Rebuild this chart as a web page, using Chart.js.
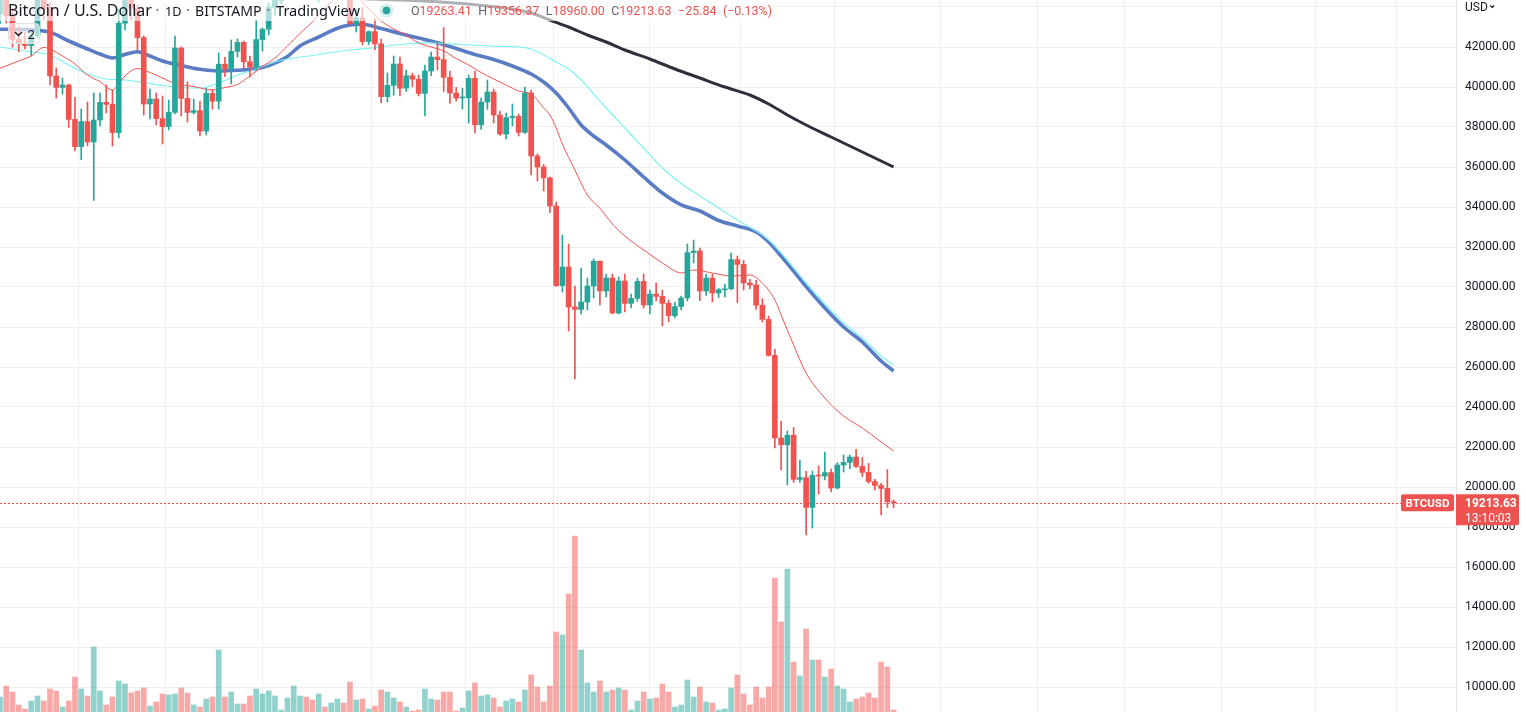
<!DOCTYPE html>
<html>
<head>
<meta charset="utf-8">
<script src="https://cdn.jsdelivr.net/npm/chart.js@4.4.1/dist/chart.umd.min.js"></script>
<style>
html,body{margin:0;padding:0;background:#fff;overflow:hidden}
#wrap{position:relative;width:1526px;height:712px}
</style>
</head>
<body>
<div id="wrap"><canvas id="c"></canvas></div>
<script>
// ---------- DATA (BTCUSD, Bitstamp, 1D, from 2022-02-09) ----------
const opens = [43650,44420,43560,42380,42200,42070,42560,44560,43900,40550,
39980,40100,38380,37020,38270,37250,38350,39230,39130,37720,
43190,44420,43920,42470,39150,39400,38420,38020,38730,41950,
39430,38730,38820,37800,39680,39290,41140,40920,41780,42230,
41260,41000,42370,42890,43980,44330,44520,46830,47130,47450,
47070,45520,46290,45830,46430,46610,45510,43180,43450,42270,
42770,42160,39520,40080,41150,39940,40560,40390,39680,40800,
41500,41370,40480,39700,39450,39460,40430,38110,39250,39750,
38600,37650,38470,38530,37730,39700,36550,36000,35460,34050,
30070,31000,29000,28880,29250,30050,31290,29800,30450,28700,
30300,29180,29430,30280,29100,29650,29530,29180,28570,29020,
29450,31720,31800,29800,30450,29700,29860,29910,31370,31130,
30200,30100,29090,28380,26580,22450,22110,22590,20380,20470,
18980,20580,20550,20720,19950,21100,21230,21500,21030,20730,
20270,20080,19930,19263.41];
const highs = [44850,45800,43920,43000,42750,42850,44750,44580,44200,40950,
40450,40150,39480,38900,39250,39700,39700,40100,39850,43900,
44950,45400,44100,42550,39900,39700,39550,39350,42550,42000,
40250,39400,39300,39950,39880,41700,41480,42350,42400,42300,
41550,43350,42950,44200,45100,44800,46900,48200,48100,47700,
47600,46700,47200,47450,46900,47200,45520,43900,43970,42800,
43420,42400,40700,41550,41500,40850,40700,40600,41100,41750,
42200,42970,40800,39980,39930,40600,40800,39450,40350,39900,
38800,38700,39150,38650,40000,39850,36650,36130,35500,34250,
32600,32150,30050,30950,30450,31400,31300,30650,30650,30500,
30650,29650,30450,30650,29850,30200,29850,29350,29230,29550,
32150,32350,31950,30650,30650,29930,30150,31700,31550,31330,
30380,30330,29420,28550,26880,23300,22800,22980,21350,20780,
20800,21050,21750,20900,21220,21600,21600,21880,21480,21180,
20380,20180,20880,19356.37];
const lows = [43150,43200,42000,41750,41900,41570,42450,43350,40100,39450,
39650,37980,36800,36370,37050,34330,38050,38700,37050,37450,
42850,43350,41850,38600,38400,38100,37150,37850,38650,38550,
38250,38650,37550,37600,38900,38900,40530,40150,41500,40920,
40500,40880,41800,42600,43600,44150,44400,46650,46950,46600,
45200,44250,45650,45550,45150,45360,43120,42750,42100,42120,
41870,39200,39250,39580,39560,39780,40010,39550,38550,40570,
40850,39770,39180,39300,38900,38200,37700,37880,38880,38200,
37580,37400,38050,37550,37680,35600,35300,34800,33720,30030,
29750,27800,25400,28650,28850,29450,29100,29500,28650,28650,
28750,28950,29280,28950,28650,29300,28050,28270,28450,28850,
29300,31200,29320,29580,29250,29470,29500,29870,29220,29850,
29900,28880,28250,26550,21950,20850,20100,20230,20230,17600,
17950,19650,20350,19750,19900,20750,20920,20980,20520,20180,
19850,18600,18980,18960];
const closes = [44420,43560,42380,42200,42070,42560,44560,43900,40550,39980,
40100,38380,37020,38270,37250,38350,39230,39130,37720,43190,
44420,43920,42470,39150,39400,38420,38020,38730,41950,39430,
38730,38820,37800,39680,39290,41140,40920,41780,42230,41260,
41000,42370,42890,43980,44330,44520,46830,47130,47450,47070,
45520,46290,45830,46430,46610,45510,43180,43450,42270,42770,
42160,39520,40080,41150,39940,40560,40390,39680,40800,41500,
41370,40480,39700,39450,39460,40430,38110,39250,39750,38600,
37650,38470,38530,37730,39700,36550,36000,35460,34050,30070,
31000,29000,28880,29250,30050,31290,29800,30450,28700,30300,
29180,29430,30280,29100,29650,29530,29180,28570,29020,29450,
31720,31800,29800,30450,29700,29860,29910,31370,31130,30200,
30100,29090,28380,26580,22450,22110,22590,20380,20470,18980,
20580,20550,20720,19950,21100,21230,21500,21030,20730,20270,
20080,19930,19263.41,19213.63];
const volumes = [1500,2600,2000,700,300,1100,1600,1100,2300,2100,
500,1100,3500,2300,1600,6500,2100,700,1500,3100,
2800,1900,2100,2400,600,1000,1800,1700,1800,2400,
1900,700,500,1300,1500,6200,1500,2000,800,800,
1600,2300,1800,2100,1600,200,1400,2600,1600,1500,
1200,1800,500,900,1300,900,3000,1200,1300,300,
600,2200,2000,1400,1000,500,100,200,2300,1300,
1200,2000,2000,100,400,2100,2900,1600,1700,1400,
500,1100,1300,1000,2200,3700,2500,1000,2600,8000,
7700,11800,17600,6200,2900,2000,3100,2000,2200,2400,
2200,200,1100,2000,1300,1400,2800,2000,500,700,
3200,1500,2500,1000,900,200,300,2400,3700,1800,
700,2500,1400,2500,13400,9000,14300,5000,3600,8300,
5200,5200,3500,4300,2600,2300,1000,1300,1500,1900,
1400,5000,4500,200];
// moving averages: [candle index, value]
const maBlack = [[56,44600],[58,44420],[61,44380],[64,44350],[67,44310],[70,44260],[74,44170],[78,44050],[82,43900],[85,43700],[88,43350],[91,43000],[94,42600],[97,42250],[100,41850],[104,41400],[108,40900],[112,40450],[116,40000],[120,39600],[123,39150],[126,38600],[129,38100],[133,37500],[137,36900],[140,36450],[143,36000]];
const maBlue = [[0,42885],[4,42875],[8,42735],[11,42300],[14,41900],[16,41650],[18,41450],[20,41625],[22,41765],[24,41550],[26,41300],[29,41075],[32,40885],[35,40800],[38,40840],[41,40920],[43,41075],[46,41530],[48,42050],[51,42500],[54,42940],[56,43100],[58,43135],[61,42925],[64,42675],[67,42450],[70,42210],[73,41925],[76,41625],[79,41375],[82,41050],[85,40650],[87,40250],[89,39700],[91,38950],[93,38100],[95,37550],[97,37100],[100,36350],[103,35500],[106,34700],[109,34110],[112,33800],[115,33325],[118,33050],[121,32750],[123,32250],[125,31550],[127,30800],[129,30015],[132,28950],[135,28000],[138,27250],[141,26300],[143,25800]];
const maCyan = [[0,42000],[4,41800],[8,41600],[11,41100],[14,40650],[17,40400],[20,40350],[23,40225],[26,40075],[29,39975],[32,39950],[35,40200],[38,40600],[41,40900],[44,41250],[47,41450],[50,41575],[53,41725],[56,41850],[59,41930],[62,42050],[65,42150],[68,42210],[71,42175],[74,42125],[77,42075],[80,42035],[83,42000],[85,41900],[87,41600],[89,41250],[91,40900],[93,40350],[95,39650],[97,38950],[100,37950],[103,36950],[106,35950],[109,35175],[112,34550],[115,33950],[118,33350],[121,32800],[123,32350],[125,31700],[127,30950],[129,30200],[132,29150],[135,28200],[138,27450],[141,26550],[143,26100]];
const maRed = [[0,40935],[3,41300],[5,41550],[7,41975],[8,41900],[10,41550],[12,41150],[14,40600],[16,40265],[18,39850],[19,40150],[20,40550],[22,40925],[24,40725],[26,40450],[28,40175],[31,40025],[34,39850],[36,39975],[38,40125],[40,40550],[42,41025],[44,41450],[46,42050],[48,42675],[50,43250],[52,43950],[53,44250],[55,44750],[57,44550],[59,43900],[61,43300],[63,42900],[65,42600],[67,42200],[69,42000],[71,41800],[73,41425],[75,41100],[77,40725],[79,40400],[81,40100],[83,39800],[85,39650],[87,38950],[88,38600],[89,37950],[90,37150],[92,35850],[94,34600],[96,33935],[98,33150],[100,32550],[103,31850],[106,31200],[108,30800],[109,30700],[111,30850],[114,30700],[117,30550],[120,30600],[122,30200],[124,29350],[125,28600],[127,27100],[129,25700],[132,24450],[135,23550],[138,22950],[141,22250],[143,21800]];
const priceTicks = [10000,12000,14000,16000,18000,20000,22000,24000,26000,28000,30000,32000,34000,36000,38000,40000,42000,44000];
const timeGridIdx = [5,20,33,51,68,81,96,112,125,142,159,173,187,204,217];
const titleParts = ['Bitcoin / U.S. Dollar','1D','BITSTAMP','TradingView'];
const ohlcItems = [['O','19263.41'],['H','19356.37'],['L','18960.00'],['C','19213.63']];
const changeText = ['−25.84','(−0.13%)'];
const symbolTag = 'BTCUSD';
const countdown = '13:10:03';
const currency = 'USD';

// ---------- categories (one per day, incl. empty future space) ----------
const SLOTS = 234;
const labels = [];
{ const d0 = Date.UTC(2022,1,9); for (let i=0;i<SLOTS;i++) labels.push(new Date(d0+i*86400000).toISOString().slice(0,10)); }

const UP='#26a69a', DOWN='#ef5350';
const isUp = closes.map((c,i)=>c>=opens[i]);
const candleCol = isUp.map(u=>u?UP:DOWN);
const volCol = isUp.map(u=>u?'rgba(38,166,154,0.5)':'rgba(239,83,80,0.5)');
const toPts = arr => arr.map(([i,v])=>({x:labels[i],y:v}));
const lastClose = closes[closes.length-1];

Chart.defaults.font.family = 'Roboto, "Noto Sans", sans-serif';

function lineDs(pts,color,width,order){
  return {type:'line',data:toPts(pts),borderColor:color,borderWidth:width,pointRadius:0,
    cubicInterpolationMode:'monotone',fill:false,yAxisID:'y',order:order};
}

function fitText(ctx,text,target,fam,x,yb){
  ctx.font='20px '+fam;
  const s = 20*target/ctx.measureText(text).width;
  ctx.font=s.toFixed(2)+'px '+fam;
  ctx.fillText(text,x,yb);
  return s;
}

const overlay = {
  id:'overlay',
  beforeDatasetsDraw(chart){
    const {ctx, chartArea:a, scales:{y}} = chart;
    const py = Math.round(y.getPixelForValue(lastClose))+0.5;
    ctx.save();
    ctx.strokeStyle='#ef5350'; ctx.lineWidth=1; ctx.setLineDash([2,2]);
    ctx.beginPath(); ctx.moveTo(a.left,py); ctx.lineTo(1401,py); ctx.stroke();
    ctx.restore();
  },
  afterDraw(chart){
    const {ctx, scales:{y}} = chart;
    ctx.save();
    // legend veil
    ctx.fillStyle='rgba(255,255,255,0.62)';
    ctx.fillRect(0,0,776,21);
    // title pieces
    const fam = '"Trebuchet MS","Noto Sans",Roboto,sans-serif';
    ctx.fillStyle='#131722'; ctx.textBaseline='alphabetic'; ctx.textAlign='left';
    const s0 = fitText(ctx,titleParts[0],144,fam,8,16);
    fitText(ctx,titleParts[1],16.5,fam,165,16);
    fitText(ctx,titleParts[2],66.5,fam,195,16);
    fitText(ctx,titleParts[3],84,fam,276,16);
    ctx.font=s0.toFixed(2)+'px '+fam; ctx.textAlign='center';
    ctx.fillStyle='#787b86';
    [157.5,188,268.5].forEach(cx=>ctx.fillText('·',cx,16));
    ctx.textAlign='left';
    // status dot
    ctx.fillStyle='rgba(38,166,154,0.2)';
    ctx.beginPath(); ctx.arc(386.5,10.5,7,0,Math.PI*2); ctx.fill();
    ctx.fillStyle=UP;
    ctx.beginPath(); ctx.arc(386.5,10.5,3.8,0,Math.PI*2); ctx.fill();
    // OHLC values
    const of = 'Roboto,sans-serif';
    ctx.font='20px '+of;
    let sum=0; ohlcItems.forEach(([k,v])=>{sum+=ctx.measureText(k+v).width;});
    changeText.forEach(t=>{sum+=ctx.measureText(t).width;});
    const gap=6.5, os = 20*(361-gap*5)/sum;
    ctx.font=os.toFixed(2)+'px '+of;
    let x=411;
    ohlcItems.forEach(([k,v])=>{
      ctx.fillStyle='#5d606b'; ctx.fillText(k,x,15); x+=ctx.measureText(k).width;
      ctx.fillStyle='#ef5350'; ctx.fillText(v,x,15); x+=ctx.measureText(v).width+gap;
    });
    changeText.forEach(t=>{ctx.fillStyle='#ef5350'; ctx.fillText(t,x,15); x+=ctx.measureText(t).width+gap;});
    // collapse box "v 2"
    ctx.fillStyle='rgba(255,255,255,0.62)';
    ctx.strokeStyle='#dfe1e7'; ctx.lineWidth=1;
    ctx.beginPath(); ctx.roundRect(8.5,23.5,31,20,4); ctx.fill(); ctx.stroke();
    ctx.strokeStyle='#131722'; ctx.lineWidth=1.4;
    ctx.beginPath(); ctx.moveTo(15,32); ctx.lineTo(18.5,35.5); ctx.lineTo(22,32); ctx.stroke();
    ctx.fillStyle='#131722'; ctx.font='13px '+of; ctx.fillText('2',27.5,38.5);
    // currency header
    ctx.font='12px '+of; ctx.fillStyle='#131722'; ctx.fillText(currency,1465,11);
    const cw = ctx.measureText(currency).width;
    ctx.lineWidth=1.1; ctx.beginPath(); ctx.moveTo(1465+cw+2.5,5.5); ctx.lineTo(1465+cw+4.5,7.5); ctx.lineTo(1465+cw+6.5,5.5); ctx.stroke();
    // last price labels
    const py = y.getPixelForValue(lastClose);
    ctx.fillStyle='#ef5350';
    ctx.beginPath(); ctx.roundRect(1401,py-8.5,53,17,2); ctx.fill();
    ctx.beginPath(); ctx.roundRect(1456,py-8.5,63,31,[0,2,2,0]); ctx.fill();
    ctx.fillStyle='#ffffff';
    ctx.font='bold 11.5px '+of; ctx.textAlign='center';
    ctx.fillText(symbolTag,1427.5,py+4.3);
    ctx.textAlign='left';
    ctx.font='bold 12px '+of; ctx.fillText(lastClose.toFixed(2),1465,py+4.5);
    ctx.font='12px '+of; ctx.fillText(countdown,1465,py+19);
    ctx.restore();
  }
};

new Chart(document.getElementById('c'),{
  type:'bar',
  data:{
    labels:labels,
    datasets:[
      {type:'bar',label:'Body',data:opens.map((o,i)=>[o,closes[i]]),backgroundColor:candleCol,
        barThickness:5,grouped:false,minBarLength:1,yAxisID:'y',order:0},
      {type:'bar',label:'Wick',data:lows.map((l,i)=>[l,highs[i]]),backgroundColor:candleCol,
        barThickness:1,grouped:false,yAxisID:'y',order:1},
      lineDs(maRed,'#ef5350',1,2),
      lineDs(maCyan,'#7ef2f2',1.2,3),
      lineDs(maBlue,'#5a7cc4',3.6,4),
      lineDs(maBlack,'#2b303b',3,5),
      {type:'bar',label:'Volume',data:volumes,backgroundColor:volCol,barThickness:5,grouped:false,yAxisID:'vol',order:6}
    ]
  },
  options:{
    responsive:true, maintainAspectRatio:false, animation:false,
    layout:{padding:0},
    plugins:{legend:{display:false},tooltip:{enabled:false},title:{display:false}},
    scales:{
      x:{type:'category',offset:false,
        afterBuildTicks:s=>{s.ticks=timeGridIdx.map(i=>({value:i}));},
        afterFit:s=>{s.height=0;s.paddingLeft=0;s.paddingRight=0;},
        ticks:{display:false,autoSkip:false},
        grid:{color:'#efefef',drawTicks:false},
        border:{display:false}},
      y:{position:'right',min:8750,max:44350,
        afterBuildTicks:s=>{s.ticks=priceTicks.map(v=>({value:v}));},
        afterFit:s=>{s.width=70;s.paddingTop=0;s.paddingBottom=0;},
        ticks:{padding:9,color:'#131722',font:{size:12},
          callback:(v,i,t)=> i===t.length-1 ? '' : Number(v).toFixed(2)},
        grid:{color:'#efefef',drawTicks:false},
        border:{display:true,color:'#e0e3eb'}},
      vol:{display:false,min:0,max:71200}
    }
  },
  plugins:[overlay]
});
</script>
</body>
</html>
